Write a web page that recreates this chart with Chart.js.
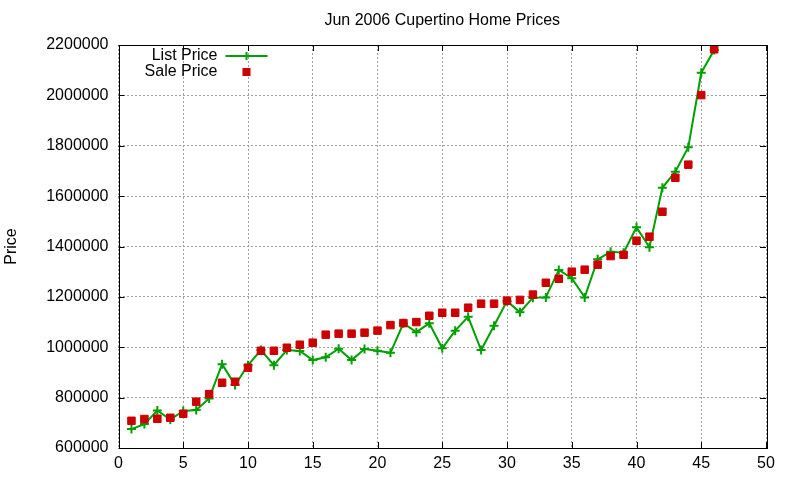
<!DOCTYPE html>
<html>
<head>
<meta charset="utf-8">
<script src="https://cdn.jsdelivr.net/npm/chart.js@4"></script>
<style>
  html, body { margin: 0; padding: 0; background: #fff; }
  #wrap { width: 800px; height: 480px; }
</style>
</head>
<body>
<div id="wrap"><canvas id="chart"></canvas></div>
<script>
const listings = [1, 2, 3, 4, 5, 6, 7, 8, 9, 10, 11, 12, 13, 14, 15, 16, 17, 18, 19, 20,
  21, 22, 23, 24, 25, 26, 27, 28, 29, 30, 31, 32, 33, 34, 35, 36, 37, 38, 39, 40,
  41, 42, 43, 44, 45, 46];
const listPrice = [675000, 695000, 749000, 713000, 747000, 751000, 797000, 933000, 850000, 929000,
  989000, 929000, 989000, 985000, 949000, 960000, 994000, 949000, 993000, 986000,
  978000, 1095000, 1060000, 1095000, 996000, 1066000, 1121000, 989000, 1085000, 1183000,
  1139000, 1197000, 1198000, 1307000, 1274000, 1198000, 1349000, 1379000, 1375000, 1476000,
  1397000, 1633000, 1697000, 1794000, 2090000, 2180000];
const salePrice = [708000, 715000, 716000, 720000, 736000, 784000, 814000, 859000, 863000, 919000,
  986000, 986000, 998000, 1010000, 1018000, 1050000, 1054000, 1054000, 1058000, 1066000,
  1088000, 1096000, 1100000, 1125000, 1137000, 1137000, 1157000, 1173000, 1173000, 1185000,
  1188000, 1209000, 1256000, 1272000, 1300000, 1308000, 1328000, 1362000, 1367000, 1423000,
  1439000, 1538000, 1673000, 1725000, 2001000, 2183000];
const seriesNames = ["List Price", "Sale Price"];
const chartTitle = "Jun 2006 Cupertino Home Prices";
const yTitle = "Price";

const FONT = "'Liberation Sans', Arial, sans-serif";
const GREEN = "#00a000";
const RED = "#cc0000";

// gnuplot look: frame, inward ticks on all four sides, title, inset key
const gnuplotDecor = {
  id: "gnuplotDecor",
  afterDraw(chart) {
    const ctx = chart.ctx;
    const a = chart.chartArea;
    const xs = chart.scales.x, ys = chart.scales.y;
    ctx.save();
    ctx.strokeStyle = "#000";
    ctx.lineWidth = 1;
    ctx.beginPath();
    xs.ticks.forEach(t => {
      const px = Math.round(xs.getPixelForValue(t.value)) + 0.5;
      ctx.moveTo(px, a.bottom); ctx.lineTo(px, a.bottom - 6);
      ctx.moveTo(px, a.top); ctx.lineTo(px, a.top + 6);
    });
    ys.ticks.forEach(t => {
      const py = Math.round(ys.getPixelForValue(t.value)) + 0.5;
      ctx.moveTo(a.left, py); ctx.lineTo(a.left + 6, py);
      ctx.moveTo(a.right, py); ctx.lineTo(a.right - 6, py);
    });
    ctx.stroke();
    ctx.strokeRect(Math.round(a.left) + 0.5, Math.round(a.top) + 0.5,
      Math.round(a.right - a.left), Math.round(a.bottom - a.top));

    ctx.fillStyle = "#000";
    ctx.font = "16px " + FONT;
    ctx.textAlign = "center";
    ctx.textBaseline = "middle";
    ctx.fillText(chartTitle, (a.left + a.right) / 2, 21);

    // key
    const kx = a.left + 99, ky = a.top + 11;
    ctx.textAlign = "right";
    ctx.fillText(seriesNames[0], kx, ky);
    ctx.fillText(seriesNames[1], kx, ky + 16);
    ctx.strokeStyle = GREEN;
    ctx.lineWidth = 2;
    ctx.beginPath();
    ctx.moveTo(kx + 8, ky); ctx.lineTo(kx + 50, ky);
    ctx.moveTo(kx + 29, ky - 4); ctx.lineTo(kx + 29, ky + 4);
    ctx.stroke();
    ctx.fillStyle = RED;
    ctx.fillRect(kx + 25, ky + 12, 8, 8);
    ctx.restore();
  }
};

new Chart(document.getElementById("chart"), {
  type: "line",
  data: {
    datasets: [
      {
        label: seriesNames[0],
        data: listings.map((n, i) => ({ x: n, y: listPrice[i] })),
        borderColor: GREEN,
        backgroundColor: GREEN,
        borderWidth: 2,
        pointStyle: "cross",
        pointRadius: 4.5,
        pointBorderWidth: 2,
        pointBorderColor: GREEN,
        tension: 0,
        order: 2
      },
      {
        label: seriesNames[1],
        data: listings.map((n, i) => ({ x: n, y: salePrice[i] })),
        showLine: false,
        pointStyle: "rect",
        pointRadius: 5.3,
        pointBorderWidth: 1,
        pointBackgroundColor: RED,
        pointBorderColor: RED,
        order: 1
      }
    ]
  },
  options: {
    responsive: true,
    maintainAspectRatio: false,
    animation: false,
    layout: { padding: { top: 45, right: 34, left: 0, bottom: 0 } },
    plugins: {
      legend: { display: false },
      title: { display: false },
      tooltip: { enabled: false }
    },
    scales: {
      x: {
        type: "linear",
        min: 0,
        max: 50,
        afterFit: s => { s.height = 32; },
        ticks: { stepSize: 5, color: "#000", font: { family: FONT, size: 16 }, padding: 6, maxRotation: 0 },
        grid: { color: "#a0a0a0", lineWidth: 1, drawTicks: false },
        border: { display: false, dash: [2, 2] }
      },
      y: {
        min: 600000,
        max: 2200000,
        afterFit: s => { s.width = 118.5; },
        ticks: {
          stepSize: 200000,
          color: "#000",
          font: { family: FONT, size: 16 },
          padding: 10,
          callback: v => String(v)
        },
        title: {
          display: true,
          text: yTitle,
          color: "#000",
          font: { family: FONT, size: 16 },
          padding: { top: 2, bottom: 0 }
        },
        grid: { color: "#a0a0a0", lineWidth: 1, drawTicks: false },
        border: { display: false, dash: [2, 2] }
      }
    }
  },
  plugins: [gnuplotDecor]
});
</script>
</body>
</html>
